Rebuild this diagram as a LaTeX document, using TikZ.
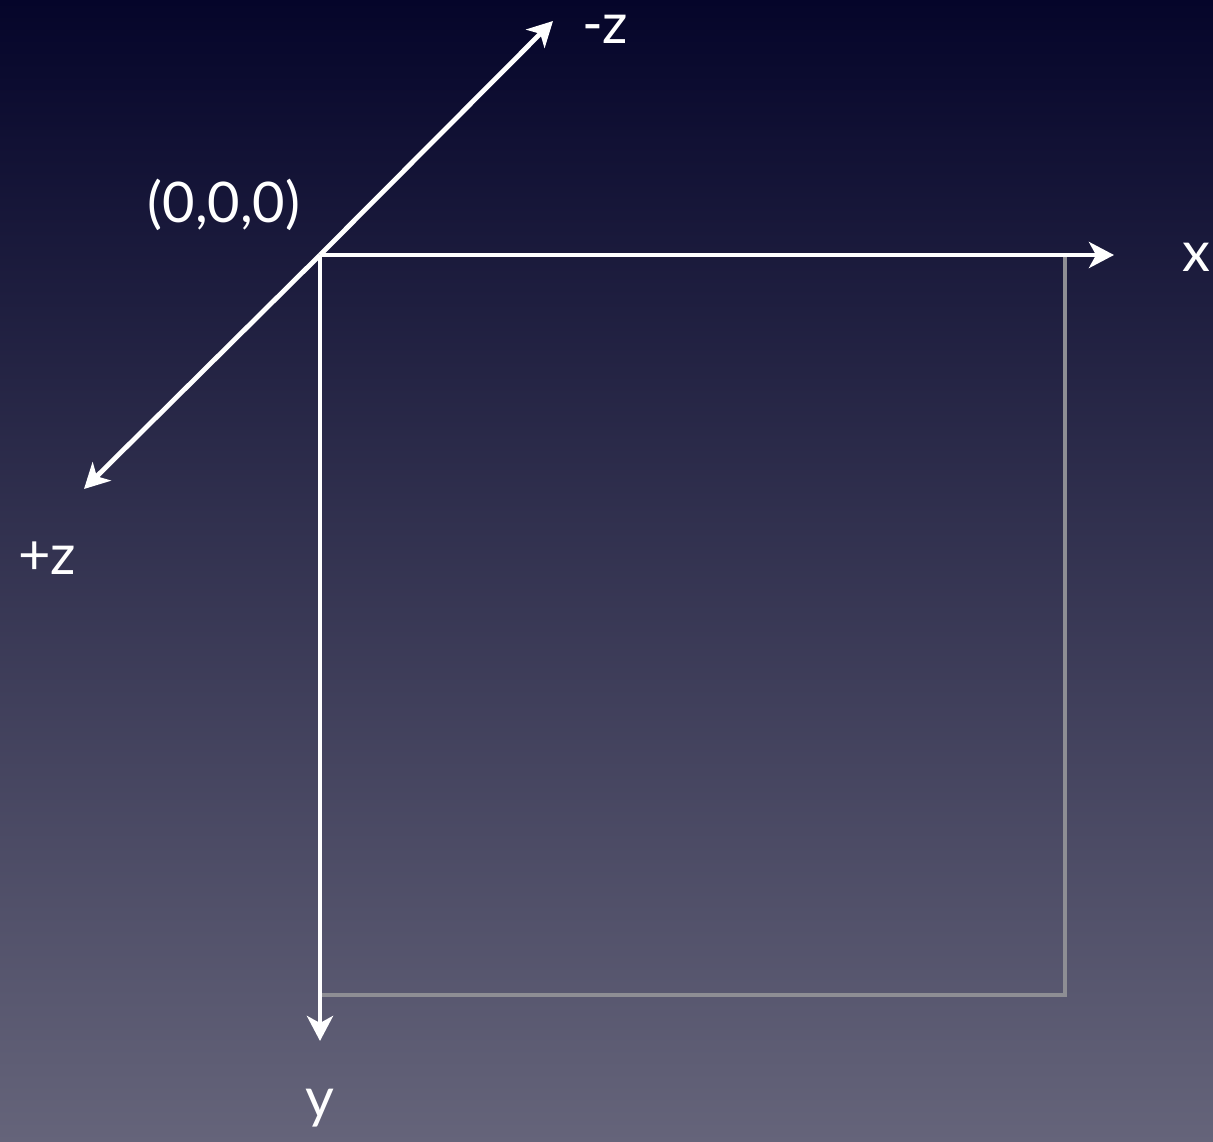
\documentclass[tikz,border=0pt]{standalone}
\usepackage{fontspec}
\setmainfont{Lato}
\usetikzlibrary{arrows.meta}
\definecolor{bgtop}{HTML}{05052A}
\definecolor{bgbot}{HTML}{65647A}
\definecolor{sqgray}{HTML}{8E8E94}
\tikzset{
  axis/.style={draw=white, line width=4.8pt, -{Stealth[length=25pt,width=26pt,inset=7pt]}},
  sqline/.style={draw=sqgray, line width=4.5pt},
  lbl/.style={text=white, font=\fontsize{56}{60}\selectfont, inner sep=0pt}
}
\begin{document}
\begin{tikzpicture}[x=1pt,y=-1pt]
\shade[top color=bgtop, bottom color=bgbot] (0,0) rectangle (1213,1142);
\useasboundingbox (0,0) rectangle (1213,1142);
\coordinate (O) at (320,255);
\coordinate (xend) at (1114,255);
\coordinate (yend) at (320,1041);
\coordinate (zp) at (84,489);
\coordinate (zm) at (553,21);
\coordinate (sqTR) at (1065,255);
\coordinate (sqBR) at (1065,995);
\coordinate (sqBL) at (320,995);
\draw[sqline] (sqTR) -- (sqBR) -- (sqBL);
\draw[axis] (O) -- (xend);
\draw[axis] (O) -- (yend);
\draw[axis] (O) -- (zp);
\draw[axis] (O) -- (zm);
\node[lbl] (lzm) at (605,29) {-z};
\node[lbl] (lx) at (1196,257) {x};
\node[lbl] (lzp) at (47,558) {+z};
\node[lbl] (ly) at (320,1108) {y};
\node[lbl] (lO) at (224,205) {(0,0,0)};
\end{tikzpicture}
\end{document}
